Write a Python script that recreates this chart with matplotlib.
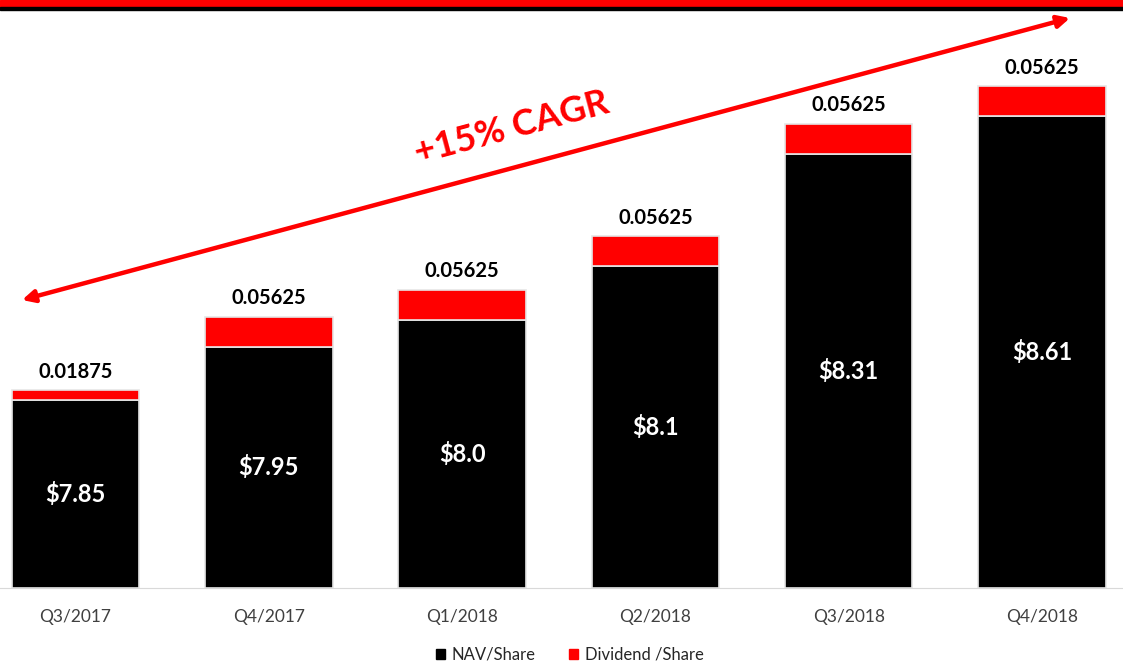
import matplotlib.pyplot as plt
from matplotlib.patches import Patch, Rectangle

plt.rcParams['font.family'] = ['Lato', 'DejaVu Sans']

quarters = ['Q3/2017', 'Q4/2017', 'Q1/2018', 'Q2/2018', 'Q3/2018', 'Q4/2018']
nav = [7.85, 7.95, 8.0, 8.1, 8.31, 8.38]          # bar heights as drawn in the source
nav_labels = ['$7.85', '$7.95', '$8.0', '$8.1', '$8.31', '$8.61']
dividend = [0.01875, 0.05625, 0.05625, 0.05625, 0.05625, 0.05625]
dividend_labels = ['0.01875', '0.05625', '0.05625', '0.05625', '0.05625', '0.05625']
base = 7.5

W, H = 1123, 663
fig = plt.figure(figsize=(W / 100, H / 100), dpi=100)
ax = fig.add_axes([0, (H - 588) / H, 1, (588 - 10) / H])

x = range(len(quarters))
black = [v - base for v in nav]
ax.bar(x, black, bottom=base, width=0.66, color='black', edgecolor='#e6e6e6', linewidth=1.2)
ax.bar(x, dividend, bottom=nav, width=0.66, color='#ff0000', edgecolor='#e6e6e6', linewidth=1.2)

for i in x:
    ax.text(i, base + black[i] / 2, nav_labels[i], color='white', fontsize=17,
            fontweight='bold', ha='center', va='center')
    ax.text(i, nav[i] + dividend[i] + 0.016, dividend_labels[i], color='black', fontsize=14.5,
            fontweight='bold', ha='center', va='bottom')

scale = 193.3
ax.set_xlim(-75.5 / scale, 5 + (W - 1042) / scale)
ax.set_ylim(base, base + 578 / 536)
ax.set_xticks(list(x))
ax.set_xticklabels(quarters, fontsize=12.5, color='#404040')
ax.tick_params(axis='x', length=0, pad=15)
ax.set_yticks([])
for s in ['top', 'left', 'right']:
    ax.spines[s].set_visible(False)
ax.spines['bottom'].set_color('#d9d9d9')

# top banner, CAGR arrow and label
fig.patches.append(Rectangle((0, 1 - 7 / H), 1, 7 / H, transform=fig.transFigure,
                             color='#ff0000', zorder=5))
fig.patches.append(Rectangle((0, 1 - 10 / H), 1, 3 / H, transform=fig.transFigure,
                             color='black', zorder=5))
ax.annotate('', xy=(1070 / W, 1 - 18 / H), xytext=(22 / W, 1 - 300 / H),
            xycoords='figure fraction', textcoords='figure fraction',
            arrowprops=dict(arrowstyle='<|-|>', color='#ff0000', lw=3.2,
                            mutation_scale=18, shrinkA=0, shrinkB=0),
            annotation_clip=False)
fig.text(512 / W, 1 - 128 / H, '+15% CAGR', color='#ff0000', fontsize=26,
         fontweight='bold', ha='center', va='center', rotation=15)

handles = [Patch(color='black', label='NAV/Share'),
           Patch(color='#ff0000', label='Dividend /Share')]
fig.legend(handles=handles, loc='center', bbox_to_anchor=(570 / W, 1 - 655 / H),
           ncol=2, frameon=False, fontsize=12, handlelength=0.55, handleheight=0.55,
           handletextpad=0.4, columnspacing=2.0, labelcolor='#262626')

fig.savefig('out.png', dpi=100)
